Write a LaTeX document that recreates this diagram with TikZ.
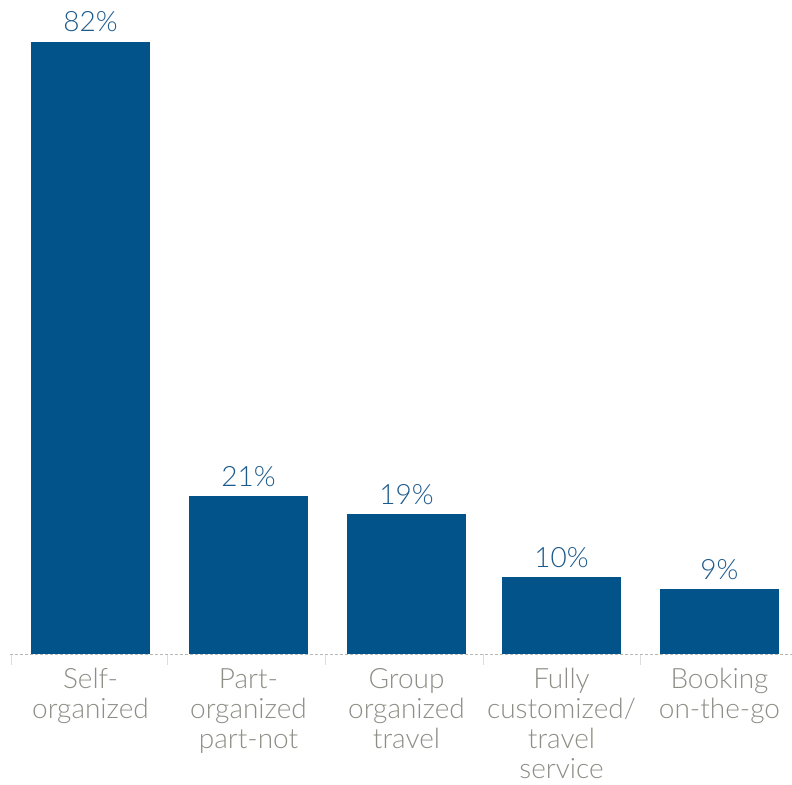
\documentclass[tikz,border=0pt]{standalone}
\usepackage{fontspec}
\setmainfont{Lato}[UprightFont=* Light]
\definecolor{barblue}{HTML}{02538A}
\definecolor{pctblue}{HTML}{1D5A8C}
\definecolor{labgray}{HTML}{8E8E86}
\definecolor{tickgray}{HTML}{DCDCDC}
\definecolor{basegray}{HTML}{B8B8B8}
\begin{document}
\begin{tikzpicture}[x=1pt,y=-1pt,
  bar/.style={fill=barblue,draw=none},
  pct/.style={anchor=base,text=pctblue,font=\fontsize{28}{30}\selectfont,inner sep=0pt},
  cat/.style={anchor=north,text=labgray,align=center,font=\fontsize{28}{30}\selectfont,inner sep=0pt},
  tickmark/.style={draw=tickgray,line width=1pt},
  baseline/.style={draw=basegray,line width=1pt,dash pattern=on 3pt off 2pt}]
\useasboundingbox (0,0) rectangle (792,784);
% ticks
\foreach \tx in {11,167,325,483,640}{
  \draw[tickmark] (\tx,654) -- (\tx,665);
}
% bars
\fill[bar] (31,42) rectangle (150,654);
\fill[bar] (189,496) rectangle (308,654);
\fill[bar] (347,514) rectangle (466,654);
\fill[bar] (502,577) rectangle (621,654);
\fill[bar] (660,589) rectangle (779,654);
% baseline
\draw[baseline] (10,654.5) -- (792,654.5);
% percent labels
\node[pct] (p1) at (90.5,32) {82\%};
\node[pct] (p2) at (248.5,486) {21\%};
\node[pct] (p3) at (406.5,504) {19\%};
\node[pct] (p4) at (561.5,567) {10\%};
\node[pct] (p5) at (719.5,579) {9\%};
% category labels
\node[cat] (c1) at (90.5,668) {Self-\\organized};
\node[cat] (c2) at (248.5,668) {Part-\\organized\\part-not};
\node[cat] (c3) at (406.5,668) {Group\\organized\\travel};
\node[cat] (c4) at (561.5,668) {Fully\\customized/\\travel\\service};
\node[cat] (c5) at (719.5,668) {Booking\\on-the-go};
\end{tikzpicture}
\end{document}
